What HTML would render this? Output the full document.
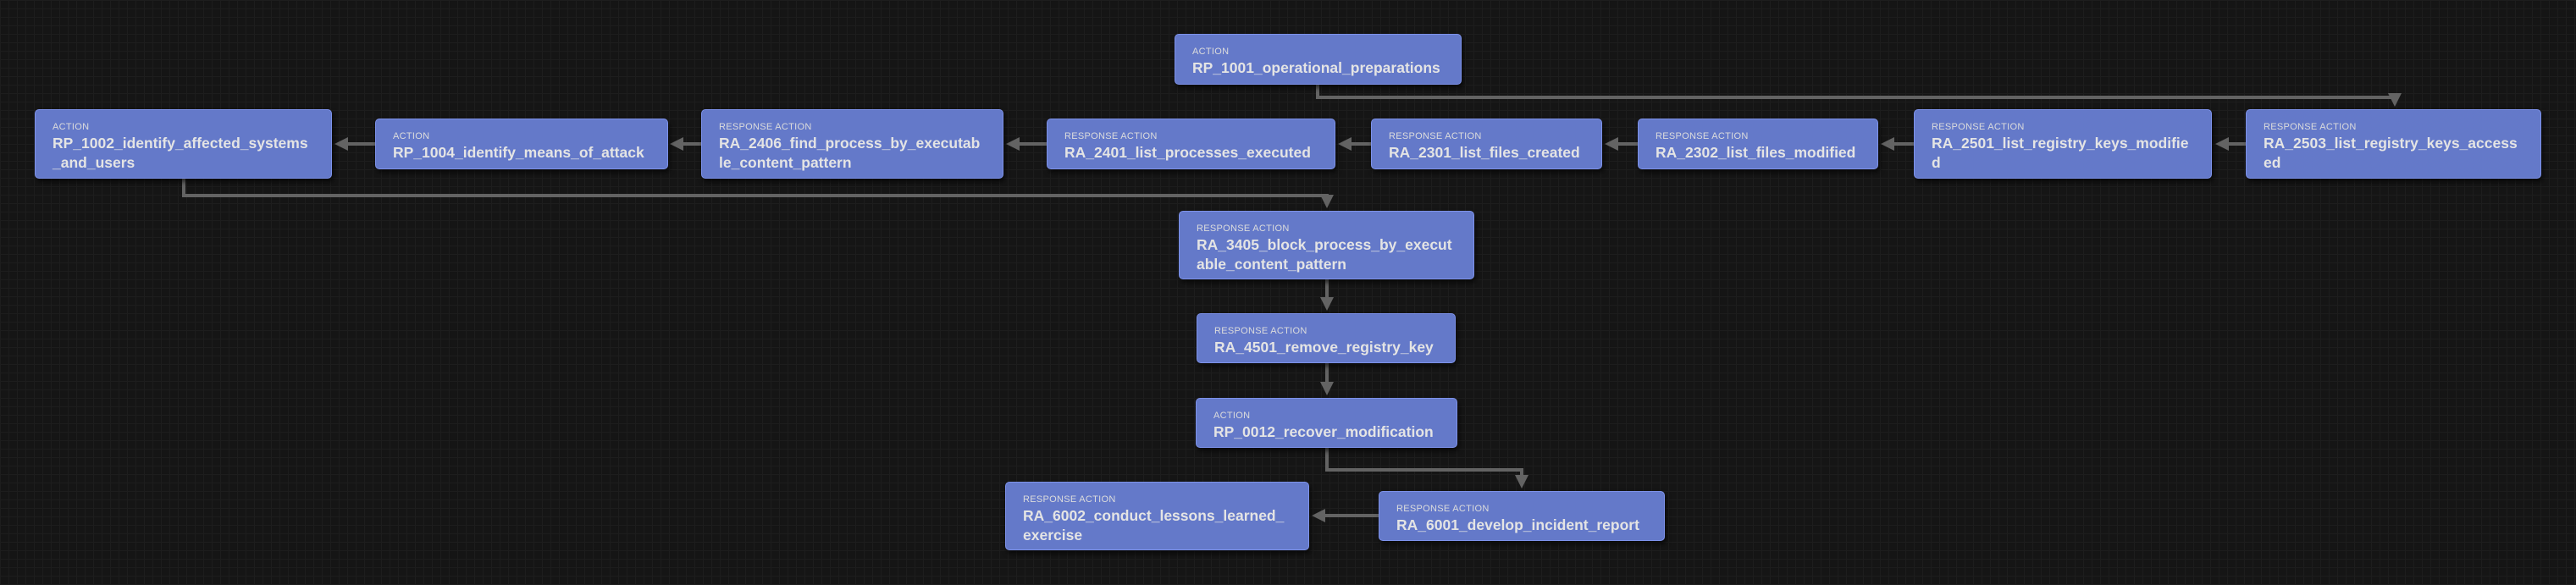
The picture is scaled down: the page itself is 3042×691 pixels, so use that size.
<!DOCTYPE html>
<html><head><meta charset="utf-8"><style>
html,body{margin:0;padding:0;}
body{width:3042px;height:691px;position:relative;overflow:hidden;background-color:#151515;
background-image:linear-gradient(#1d1d1d 1px,transparent 1px),linear-gradient(90deg,#1d1d1d 1px,transparent 1px);
background-size:10px 10px;font-family:"Liberation Sans",sans-serif;}
.n{position:absolute;box-sizing:border-box;background:#6479c9;border:1px solid #7d92ea;border-radius:5px;
padding:12px 4px 0 20px;box-shadow:2px 4px 6px rgba(0,0,0,0.6);color:#e4e4e4;overflow:hidden;}
.l{font-size:11px;line-height:16px;letter-spacing:0.3px;color:#dcdcdc;}
.t{font-size:17.5px;line-height:23px;font-weight:bold;white-space:nowrap;}
svg{position:absolute;left:0;top:0;}
</style></head><body>
<svg width="3042" height="691">
<defs><marker id="a" markerWidth="4" markerHeight="4" refX="3" refY="2" orient="auto" markerUnits="strokeWidth"><path d="M0,0 L4,2 L0,4 z" fill="#636363"/></marker></defs>
<g stroke="#636363" stroke-width="4" fill="none">
<polyline points="1556,100 1556,115 2828,115 2828,122" marker-end="url(#a)"/>
<line x1="2652" y1="170" x2="2620" y2="170" marker-end="url(#a)"/>
<line x1="2260" y1="170" x2="2225" y2="170" marker-end="url(#a)"/>
<line x1="1934" y1="170" x2="1899" y2="170" marker-end="url(#a)"/>
<line x1="1619" y1="170" x2="1584" y2="170" marker-end="url(#a)"/>
<line x1="1236" y1="170" x2="1192" y2="170" marker-end="url(#a)"/>
<line x1="828" y1="170" x2="795" y2="170" marker-end="url(#a)"/>
<line x1="443" y1="170" x2="399" y2="170" marker-end="url(#a)"/>
<polyline points="217,211 217,231 1567,231 1567,242" marker-end="url(#a)"/>
<line x1="1567" y1="330" x2="1567" y2="363" marker-end="url(#a)"/>
<line x1="1567" y1="429" x2="1567" y2="463" marker-end="url(#a)"/>
<polyline points="1567,529 1567,555 1797,555 1797,573" marker-end="url(#a)"/>
<line x1="1628" y1="609" x2="1553" y2="609" marker-end="url(#a)"/>
</g></svg>

<div class="n" style="left:1387px;top:40px;width:339px;height:60px"><div class="l">ACTION</div><div class="t">RP_1001_operational_preparations</div></div>

<div class="n" style="left:41px;top:129px;width:351px;height:82px"><div class="l">ACTION</div><div class="t">RP_1002_identify_affected_systems<br>_and_users</div></div>
<div class="n" style="left:443px;top:140px;width:346px;height:60px"><div class="l">ACTION</div><div class="t">RP_1004_identify_means_of_attack</div></div>
<div class="n" style="left:828px;top:129px;width:357px;height:82px"><div class="l">RESPONSE ACTION</div><div class="t">RA_2406_find_process_by_executab<br>le_content_pattern</div></div>
<div class="n" style="left:1236px;top:140px;width:341px;height:60px"><div class="l">RESPONSE ACTION</div><div class="t">RA_2401_list_processes_executed</div></div>
<div class="n" style="left:1619px;top:140px;width:273px;height:60px"><div class="l">RESPONSE ACTION</div><div class="t">RA_2301_list_files_created</div></div>
<div class="n" style="left:1934px;top:140px;width:284px;height:60px"><div class="l">RESPONSE ACTION</div><div class="t">RA_2302_list_files_modified</div></div>
<div class="n" style="left:2260px;top:129px;width:352px;height:82px"><div class="l">RESPONSE ACTION</div><div class="t">RA_2501_list_registry_keys_modifie<br>d</div></div>
<div class="n" style="left:2652px;top:129px;width:349px;height:82px"><div class="l">RESPONSE ACTION</div><div class="t">RA_2503_list_registry_keys_access<br>ed</div></div>

<div class="n" style="left:1392px;top:249px;width:349px;height:81px"><div class="l">RESPONSE ACTION</div><div class="t">RA_3405_block_process_by_execut<br>able_content_pattern</div></div>
<div class="n" style="left:1413px;top:370px;width:306px;height:59px"><div class="l">RESPONSE ACTION</div><div class="t">RA_4501_remove_registry_key</div></div>
<div class="n" style="left:1412px;top:470px;width:309px;height:59px"><div class="l">ACTION</div><div class="t">RP_0012_recover_modification</div></div>
<div class="n" style="left:1628px;top:580px;width:338px;height:59px"><div class="l">RESPONSE ACTION</div><div class="t">RA_6001_develop_incident_report</div></div>
<div class="n" style="left:1187px;top:569px;width:359px;height:81px"><div class="l">RESPONSE ACTION</div><div class="t">RA_6002_conduct_lessons_learned_<br>exercise</div></div>
</body></html>
